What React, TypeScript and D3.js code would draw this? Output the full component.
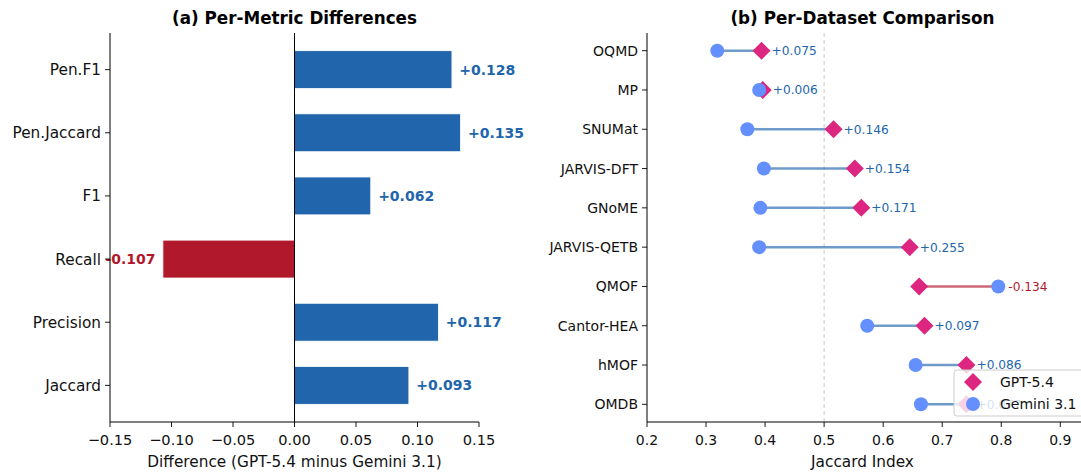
import React from 'react';
import * as d3 from 'd3';

// panel (a): per-metric difference, bottom to top
const metrics = ['Jaccard', 'Precision', 'Recall', 'F1', 'Pen.Jaccard', 'Pen.F1'];
const metricDiffs = [0.093, 0.117, -0.107, 0.062, 0.135, 0.128];
const diffTicks = [-0.15, -0.1, -0.05, 0, 0.05, 0.1, 0.15];

// panel (b): per-dataset jaccard, top to bottom
const datasets = ['OQMD', 'MP', 'SNUMat', 'JARVIS-DFT', 'GNoME', 'JARVIS-QETB', 'QMOF', 'Cantor-HEA', 'hMOF', 'OMDB'];
const gptJaccard = [0.394, 0.396, 0.516, 0.552, 0.563, 0.645, 0.661, 0.670, 0.741, 0.741];
const geminiJaccard = [0.319, 0.390, 0.370, 0.398, 0.392, 0.390, 0.795, 0.573, 0.655, 0.664];
const jaccardTicks = [0.2, 0.3, 0.4, 0.5, 0.6, 0.7, 0.8, 0.9];

const FONT = 'DejaVu Sans, sans-serif';
const BLUE = '#2166ac';
const RED = '#b2182b';
const GPT_C = '#DC267F';
const GEM_C = '#648FFF';

const top = 33;
const bottom = 422;

const fmtTick = (v: number) => {
  const s = Math.abs(v).toFixed(2);
  return v < -1e-9 ? '\u2212' + s : s;
};
const fmtDiff = (v: number) => (v >= 0 ? '+' : '-') + Math.abs(v).toFixed(3);

const diamond = (cx: number, cy: number, r: number) =>
  `M${cx},${cy - r}L${cx + r},${cy}L${cx},${cy + r}L${cx - r},${cy}Z`;

const PanelA = () => {
  const left = 110;
  const right = 479;
  const x = d3.scaleLinear().domain([-0.15, 0.15]).range([left, right]);
  const y = d3.scaleLinear().domain([-0.58, metrics.length - 1 + 0.58]).range([bottom, top]);
  const barH = (y(0) - y(0.6));
  return (
    <g>
      <text x={(left + right) / 2} y={24} textAnchor="middle" fontSize={16.8} fontWeight="bold" fontFamily={FONT}>
        (a) Per-Metric Differences
      </text>
      {metrics.map((m, i) => {
        const v = metricDiffs[i];
        const x0 = x(Math.min(0, v));
        const w = Math.abs(x(v) - x(0));
        const cy = y(i);
        const pos = v >= 0;
        return (
          <g key={m}>
            <rect x={x0} y={cy - barH / 2} width={w} height={barH} fill={pos ? BLUE : RED} stroke="#ffffff" strokeWidth={0.8} />
            <text
              x={pos ? x(v + 0.006) : x(v - 0.006)}
              y={cy}
              dy="0.36em"
              textAnchor={pos ? 'start' : 'end'}
              fontSize={14}
              fontWeight="bold"
              fill={pos ? BLUE : RED}
              fontFamily={FONT}
            >
              {fmtDiff(v)}
            </text>
            <line x1={left} x2={left - 5} y1={cy} y2={cy} stroke="#000" strokeWidth={0.9} />
            <text x={left - 9} y={cy} dy="0.36em" textAnchor="end" fontSize={15.3} fontFamily={FONT} fill="#111">
              {m}
            </text>
          </g>
        );
      })}
      <line x1={x(0)} x2={x(0)} y1={top} y2={bottom} stroke="#000" strokeWidth={1} />
      <line x1={left} x2={left} y1={top} y2={bottom} stroke="#000" strokeWidth={1} />
      <line x1={left} x2={right} y1={bottom} y2={bottom} stroke="#000" strokeWidth={1} />
      {diffTicks.map(t => (
        <g key={t}>
          <line x1={x(t)} x2={x(t)} y1={bottom} y2={bottom + 5} stroke="#000" strokeWidth={0.9} />
          <text x={x(t)} y={445} textAnchor="middle" fontSize={14.6} fontFamily={FONT} fill="#111">
            {fmtTick(t)}
          </text>
        </g>
      ))}
      <text x={(left + right) / 2} y={467} textAnchor="middle" fontSize={15.3} fontFamily={FONT} fill="#111">
        Difference (GPT-5.4 minus Gemini 3.1)
      </text>
    </g>
  );
};

const PanelB = () => {
  const left = 647;
  const right = 1078;
  const x = d3.scaleLinear().domain([0.2, 0.93]).range([left, right]);
  const y = d3.scaleLinear().domain([-0.45, datasets.length - 1 + 0.45]).range([top, bottom]);
  const lx = 954;
  const ly = 370;
  return (
    <g>
      <text x={(left + right) / 2} y={24} textAnchor="middle" fontSize={16.8} fontWeight="bold" fontFamily={FONT}>
        (b) Per-Dataset Comparison
      </text>
      <line x1={x(0.5)} x2={x(0.5)} y1={top} y2={bottom} stroke="#c8c8c8" strokeWidth={1} strokeDasharray="4,3" />
      {datasets.map((d, i) => {
        const g = gptJaccard[i];
        const m = geminiJaccard[i];
        const diff = g - m;
        const cy = y(i);
        const pos = diff >= 0;
        return (
          <g key={d}>
            <line x1={x(m)} x2={x(g)} y1={cy} y2={cy} stroke={pos ? BLUE : RED} strokeOpacity={0.65} strokeWidth={2.5} />
            <text
              x={x(Math.max(g, m) + 0.017)}
              y={cy}
              dy="0.36em"
              fontSize={12.2}
              fill={pos ? BLUE : RED}
              fontFamily={FONT}
            >
              {fmtDiff(diff)}
            </text>
            <line x1={left} x2={left - 5} y1={cy} y2={cy} stroke="#000" strokeWidth={0.9} />
            <text x={left - 9} y={cy} dy="0.36em" textAnchor="end" fontSize={14} fontFamily={FONT} fill="#111">
              {d}
            </text>
          </g>
        );
      })}
      {datasets.map((d, i) => (
        <path key={d + 'g'} d={diamond(x(gptJaccard[i]), y(i), 9)} fill={GPT_C} />
      ))}
      {datasets.map((d, i) => (
        <circle key={d + 'm'} cx={x(geminiJaccard[i])} cy={y(i)} r={7} fill={GEM_C} />
      ))}
      <line x1={left} x2={left} y1={top} y2={bottom} stroke="#000" strokeWidth={1} />
      <line x1={left} x2={right + 3} y1={bottom} y2={bottom} stroke="#000" strokeWidth={1} />
      {jaccardTicks.map(t => (
        <g key={t}>
          <line x1={x(t)} x2={x(t)} y1={bottom} y2={bottom + 5} stroke="#000" strokeWidth={0.9} />
          <text x={x(t)} y={445} textAnchor="middle" fontSize={14} fontFamily={FONT} fill="#111">
            {t.toFixed(1)}
          </text>
        </g>
      ))}
      <text x={(left + right) / 2} y={467} textAnchor="middle" fontSize={15.3} fontFamily={FONT} fill="#111">
        Jaccard Index
      </text>
      <g>
        <rect x={lx} y={ly} width={132} height={46} rx={3} fill="#ffffff" fillOpacity={0.8} stroke="#cccccc" strokeWidth={1} />
        <path d={diamond(lx + 19, ly + 12, 9)} fill={GPT_C} />
        <text x={lx + 46} y={ly + 12} dy="0.36em" fontSize={14} fontFamily={FONT} fill="#111">GPT-5.4</text>
        <circle cx={lx + 19} cy={ly + 34} r={7} fill={GEM_C} />
        <text x={lx + 46} y={ly + 34} dy="0.36em" fontSize={14} fontFamily={FONT} fill="#111">Gemini 3.1</text>
      </g>
    </g>
  );
};

export default function App() {
  return (
    <div style={{ position: 'absolute', left: 0, top: 0 }}>
      <svg width={1081} height={472} style={{ display: 'block', background: '#fff' }}>
        <PanelA />
        <PanelB />
      </svg>
    </div>
  );
}
